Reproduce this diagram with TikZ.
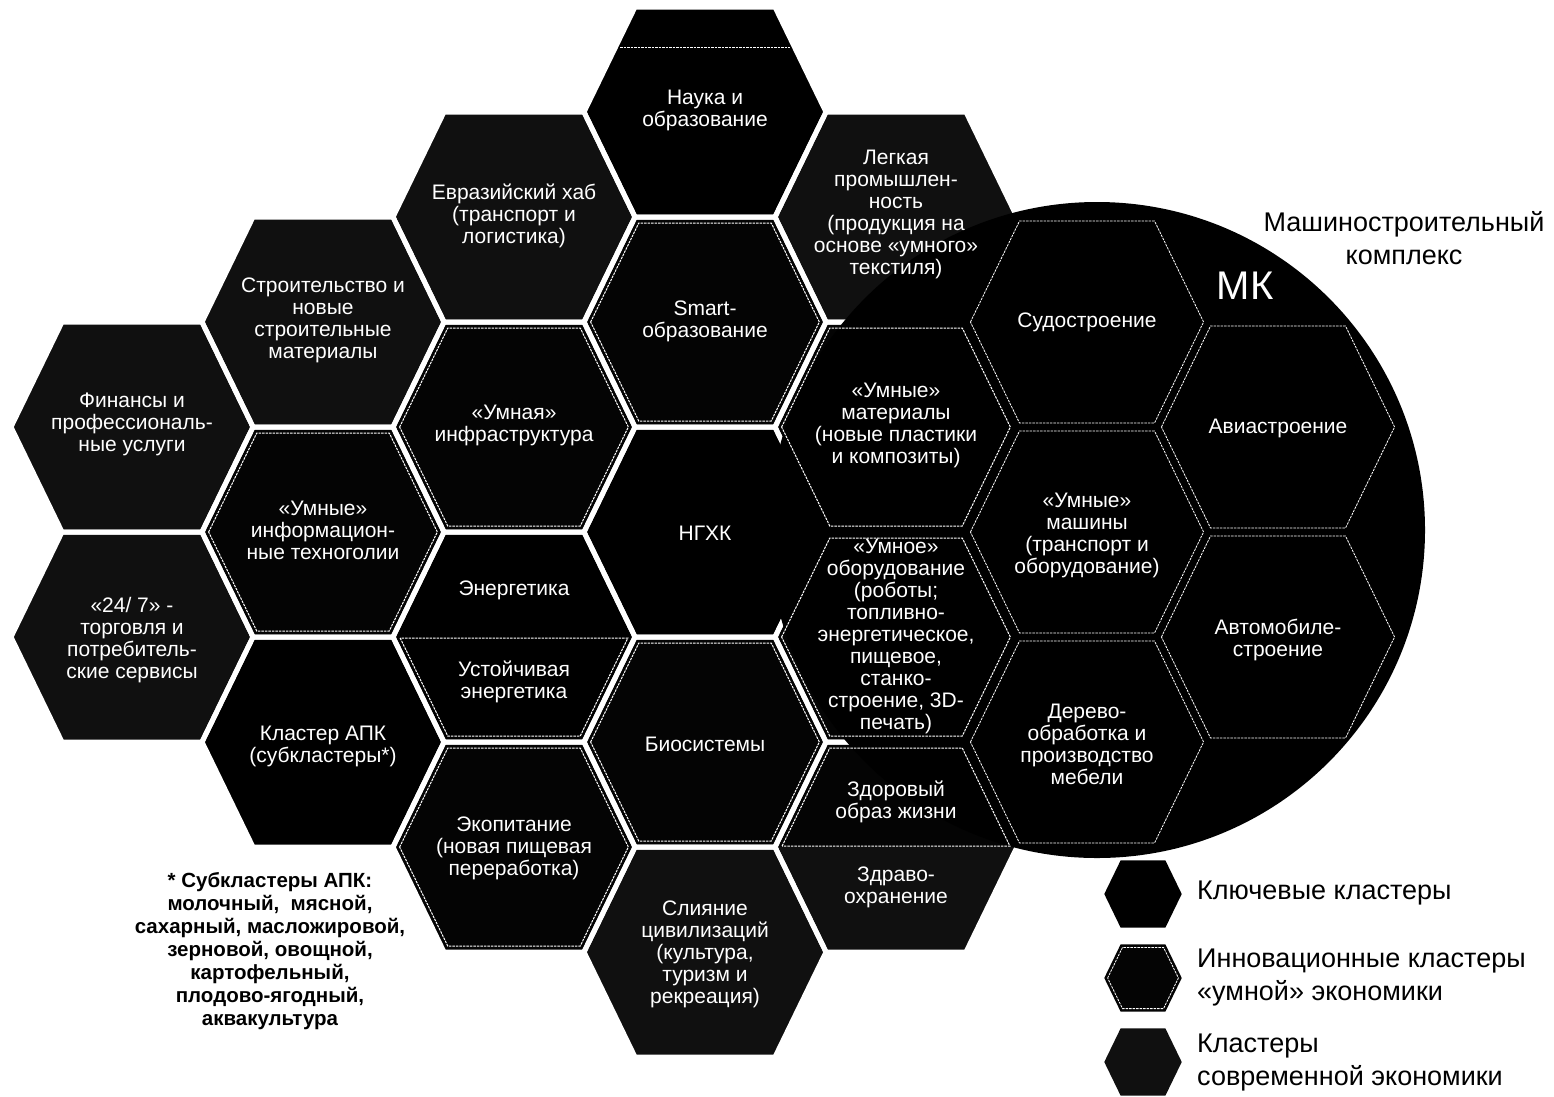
\documentclass[tikz,border=0pt]{standalone}
\usepackage{fontspec}
\setmainfont{Liberation Sans}
\definecolor{keyc}{HTML}{000000}
\definecolor{modc}{HTML}{101010}
\definecolor{innc}{HTML}{040404}
% hexagon: centre x, centre y, scale, inset
\newcommand\hxp[4]{({#1-(121*#3-1.11*#4)},{#2}) -- ({#1-(70*#3-0.626*#4)},{#2-(105*#3-#4)}) -- ({#1+(70*#3-0.626*#4)},{#2-(105*#3-#4)}) -- ({#1+(121*#3-1.11*#4)},{#2}) -- ({#1+(70*#3-0.626*#4)},{#2+(105*#3-#4)}) -- ({#1-(70*#3-0.626*#4)},{#2+(105*#3-#4)}) -- cycle}
\newcommand\hxlow[3]{({#1-(121-1.11*#3-0.49)},{#2+1}) -- ({#1-(70-0.626*#3)},{#2+105-#3}) -- ({#1+(70-0.626*#3)},{#2+105-#3}) -- ({#1+(121-1.11*#3-0.49)},{#2+1}) -- cycle}
\newcommand\hxup[3]{({#1-(121-1.11*#3-0.49)},{#2-1}) -- ({#1-(70-0.626*#3)},{#2-105+#3}) -- ({#1+(70-0.626*#3)},{#2-105+#3}) -- ({#1+(121-1.11*#3-0.49)},{#2-1}) -- cycle}
\tikzset{
  htxt/.style={text=white, align=center, font=\fontsize{21}{22}\selectfont, inner sep=0pt},
  inline/.style={draw=white, line width=1pt, dash pattern=on 2.5pt off 1pt},
  gapline/.style={draw=white, line width=5pt, line join=miter},
  ltxt/.style={anchor=west, align=left, font=\fontsize{27}{33}\selectfont, inner sep=0pt},
}
\begin{document}
\begin{tikzpicture}[x=1pt,y=-1pt]
\useasboundingbox (0,0) rectangle (1554,1096);
\fill[white] (0,0) rectangle (1554,1096);
% honeycomb fills
\foreach \x/\y/\c in {132/427/modc,132/637/modc,323/322/modc,323/532/innc,323/742/keyc,514/217/modc,514/427/innc,514/637/keyc,514/847/innc,705/112/keyc,705/322/innc,705/532/keyc,705/742/innc,705/952/modc,896/217/modc,896/427/innc,896/637/innc,896/847/innc}
  {\fill[\c] \hxp{\x}{\y}{1}{0};}
\fill[modc] (775,847) -- (826,952) -- (966,952) -- (1017,847) -- cycle;
% white gaps
\foreach \x/\y in {132/427,132/637,323/322,323/532,323/742,514/217,514/427,514/637,514/847,705/112,705/322,705/532,705/742,705/952,896/217,896/427,896/637,896/847}
  {\draw[gapline] \hxp{\x}{\y}{1}{0};}
% MK disc
\fill[keyc] (1097,530) circle[radius=328pt];
\begin{scope}
  \clip (1097,530) circle[radius=327pt];
  \foreach \x/\y in {1087/322,1087/532,1087/742,1278/427,1278/637}
    {\draw[inline, line width=0.8pt] \hxp{\x}{\y}{1}{4};}
\end{scope}
% innovation outlines
\foreach \x/\y in {323/532,514/427,514/847,705/322,705/742,896/427,896/637}
  {\draw[inline] \hxp{\x}{\y}{1}{6};}
\draw[inline] \hxlow{514}{637}{6};
\draw[inline] \hxup{896}{847}{6};
\draw[inline] (620,47) -- (790,47);
% texts in hexagons
\node[htxt] (nauka) at (705,110) {Наука и\\образование};
\node[htxt] (evraz) at (514,216) {Евразийский хаб\\(транспорт и\\логистика)};
\node[htxt] (legk) at (896,214) {Легкая\\промышлен-\\ность\\(продукция на\\основе «умного»\\текстиля)};
\node[htxt] (stroi) at (323,320) {Строительство и\\новые\\строительные\\материалы};
\node[htxt] (smart) at (705,321) {Smart-\\образование};
\node[htxt] (sudo) at (1087,322) {Судостроение};
\node[htxt] (fin) at (132,424) {Финансы и\\профессиональ-\\ные услуги};
\node[htxt] (infra) at (514,425) {«Умная»\\инфраструктура};
\node[htxt] (mater) at (896,425) {«Умные»\\материалы\\(новые пластики\\и композиты)};
\node[htxt] (avia) at (1278,428) {Авиастроение};
\node[htxt] (inform) at (323,530) {«Умные»\\информацион-\\ные техноголии};
\node[htxt] (ngkh) at (705,533) {НГХК};
\node[htxt] (mash) at (1087,535) {«Умные»\\машины\\(транспорт и\\оборудование)};
\node[htxt] (torg) at (132,640) {«24/ 7» -\\торговля и\\потребитель-\\ские сервисы};
\node[htxt] (energ) at (514,590) {Энергетика};
\node[htxt] (ustoi) at (514,682) {Устойчивая\\энергетика};
\node[htxt] (oborud) at (896,636) {«Умное»\\оборудование\\(роботы;\\топливно-\\энергетическое,\\пищевое,\\станко-\\строение, 3D-\\печать)};
\node[htxt] (avto) at (1278,640) {Автомобиле-\\строение};
\node[htxt] (apk) at (323,746) {Кластер АПК\\(субкластеры*)};
\node[htxt] (bio) at (705,744) {Биосистемы};
\node[htxt] (derevo) at (1087,744) {Дерево-\\обработка и\\производство\\мебели};
\node[htxt] (ekopit) at (514,848) {Экопитание\\(новая пищевая\\переработка)};
\node[htxt] (zdor) at (896,802) {Здоровый\\образ жизни};
\node[htxt] (zdrav) at (896,887) {Здраво-\\охранение};
\node[htxt] (sliyan) at (705,954) {Слияние\\цивилизаций\\(культура,\\туризм и\\рекреация)};
% MK labels
\node[text=white, font=\fontsize{40}{44}\selectfont, inner sep=0pt] (mk) at (1245,286) {МК};
\node[align=center, font=\fontsize{27}{33}\selectfont, inner sep=0pt] (mktitle) at (1404,238) {Машиностроительный\\комплекс};
% footnote
\node[align=center, font=\bfseries\fontsize{20.5}{23}\selectfont, inner sep=0pt] (foot) at (270,951) {* Субкластеры АПК:\\молочный,~ мясной,\\сахарный, масложировой,\\зерновой, овощной,\\картофельный,\\плодово-ягодный,\\аквакультура};
% legend
\fill[keyc] \hxp{1143}{894}{0.32}{0};
\fill[innc] \hxp{1143}{978}{0.32}{0};
\draw[inline, line width=0.8pt] \hxp{1143}{978}{0.32}{3};
\fill[modc] \hxp{1143}{1062}{0.32}{0};
\node[ltxt] (leg1) at (1197,893) {Ключевые кластеры};
\node[ltxt] (leg2) at (1197,977) {Инновационные кластеры\\«умной» экономики};
\node[ltxt] (leg3) at (1197,1062) {Кластеры\\современной экономики};
\end{tikzpicture}
\end{document}
